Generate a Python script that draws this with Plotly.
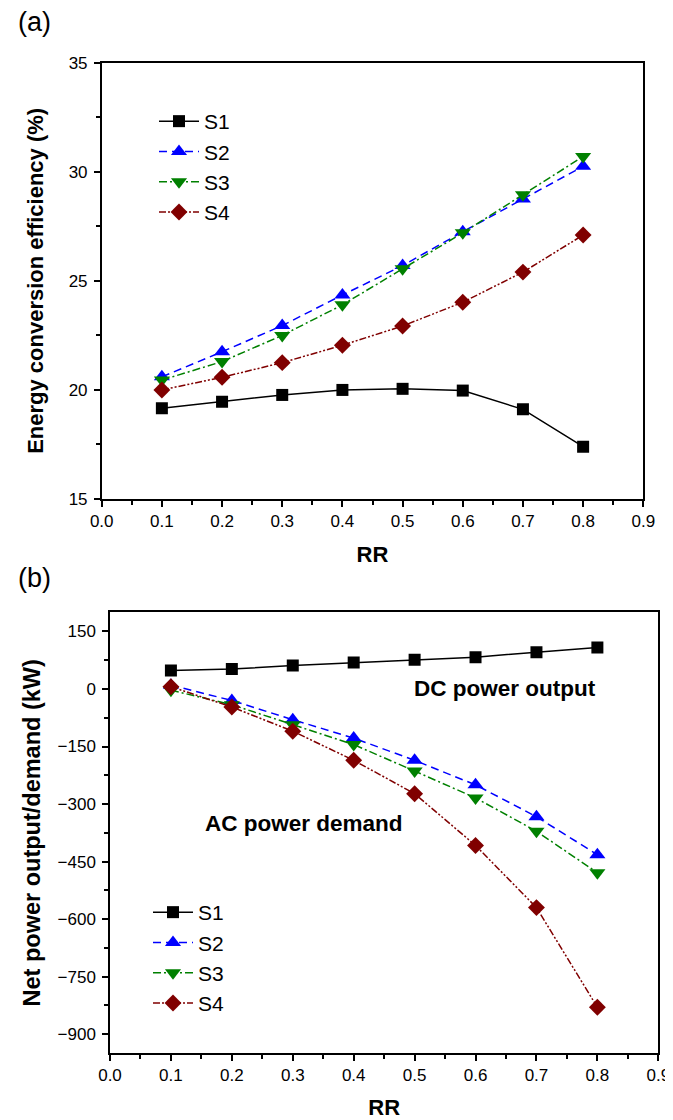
import plotly.graph_objects as go

rr = [0.1, 0.2, 0.3, 0.4, 0.5, 0.6, 0.7, 0.8]
series_names = ["S1", "S2", "S3", "S4"]

# (a) Energy conversion efficiency (%)
eff_s1 = [19.16, 19.46, 19.77, 20.0, 20.05, 19.97, 19.11, 17.40]
eff_s2 = [20.6, 21.75, 22.95, 24.35, 25.7, 27.25, 28.75, 30.25]
eff_s3 = [20.45, 21.3, 22.5, 23.9, 25.55, 27.2, 28.95, 30.7]
eff_s4 = [20.0, 20.58, 21.25, 22.05, 22.93, 24.02, 25.4, 27.1]

# (b) Net power output/demand (kW)
pow_s1 = [48, 52, 61, 69, 76, 83, 96, 108]
pow_s2 = [10, -30, -80, -128, -186, -250, -333, -432]
pow_s3 = [-3, -41, -93, -145, -214, -284, -371, -479]
pow_s4 = [6, -47, -110, -186, -273, -408, -570, -830]

x_ticks = [0.0, 0.1, 0.2, 0.3, 0.4, 0.5, 0.6, 0.7, 0.8, 0.9]
y_ticks_a = [15, 20, 25, 30, 35]
y_ticks_b = [150, 0, -150, -300, -450, -600, -750, -900]

colors = ["#000000", "#0000FF", "#008000", "#800000"]
symbols = ["square", "triangle-up", "triangle-down", "diamond"]
sizes = [12, 14, 14, 13]
dashes = ["solid", "8px,5px", "8px,3px,2px,3px", "7px,2px,2px,2px,2px,2px"]

FONT = "Liberation Sans, Arial, sans-serif"

# page body has an 8px margin; lay out in screen pixels
W, H, OFF = 665, 1112, 8


def PX(x):
    return (x - OFF) / W


def PY(y):
    return 1 - (y - OFF) / H


fig = go.Figure()

eff = [eff_s1, eff_s2, eff_s3, eff_s4]
pw = [pow_s1, pow_s2, pow_s3, pow_s4]
for i, name in enumerate(series_names):
    fig.add_trace(go.Scatter(
        x=rr, y=eff[i], name=name, mode="lines+markers",
        line=dict(color=colors[i], width=1.5, dash=dashes[i]),
        marker=dict(symbol=symbols[i], size=sizes[i], color=colors[i]),
        xaxis="x", yaxis="y", legend="legend", legendgroup="a" + name,
    ))
for i, name in enumerate(series_names):
    fig.add_trace(go.Scatter(
        x=rr, y=pw[i], name=name, mode="lines+markers",
        line=dict(color=colors[i], width=1.5, dash=dashes[i]),
        marker=dict(symbol=symbols[i], size=sizes[i], color=colors[i]),
        xaxis="x2", yaxis="y2", legend="legend2", legendgroup="b" + name,
    ))

tickfont = dict(family=FONT, size=17, color="#000")
titlefont = dict(family=FONT, size=22, color="#000", weight="bold")

common_x = dict(
    range=[0, 0.9], tickvals=x_ticks, tickformat=".1f",
    showline=True, linecolor="#000", linewidth=1.5, mirror=True,
    ticks="outside", ticklen=6, tickwidth=1.5, tickcolor="#000",
    minor=dict(ticks="outside", ticklen=4, tickwidth=1.5, tickcolor="#000", dtick=0.05),
    showgrid=False, zeroline=False, tickfont=tickfont, automargin=False,
    title=dict(text="RR", font=titlefont, standoff=16),
)
common_y = dict(
    showline=True, linecolor="#000", linewidth=1.5, mirror=True,
    ticks="outside", ticklen=6, tickwidth=1.5, tickcolor="#000",
    showgrid=False, zeroline=False, tickfont=tickfont, automargin=False,
    ticklabelstandoff=3,
)

fig.update_layout(
    width=W, height=H,
    margin=dict(l=0, r=0, t=0, b=0),
    paper_bgcolor="white", plot_bgcolor="white",
    font=dict(family=FONT, color="#000"),
    xaxis=dict(domain=[PX(101.7), PX(643.3)], anchor="y", **common_x),
    yaxis=dict(domain=[PY(499), PY(62.7)], anchor="x", range=[15, 35], tickvals=y_ticks_a,
               minor=dict(ticks="outside", ticklen=4, tickwidth=1.5, tickcolor="#000", dtick=2.5),
               title=dict(text="Energy conversion efficiency (%)", font=titlefont, standoff=19),
               **common_y),
    xaxis2=dict(domain=[PX(110), PX(658.3)], anchor="y2", **common_x),
    yaxis2=dict(domain=[PY(1053.3), PY(612.3)], anchor="x2", range=[-950, 200], tickvals=y_ticks_b,
                minor=dict(ticks="outside", ticklen=4, tickwidth=1.5, tickcolor="#000", dtick=75),
                title=dict(text="Net power output/demand (kW)",
                           font=dict(family=FONT, size=23.5, color="#000", weight="bold"),
                           standoff=10),
                **common_y),
    legend=dict(x=PX(154), y=PY(101), xanchor="left", yanchor="top",
                bgcolor="rgba(0,0,0,0)", font=dict(family=FONT, size=21, color="#000"),
                tracegroupgap=0, itemwidth=40),
    legend2=dict(x=PX(148), y=PY(892), xanchor="left", yanchor="top",
                 bgcolor="rgba(0,0,0,0)", font=dict(family=FONT, size=21, color="#000"),
                 tracegroupgap=0, itemwidth=40),
    annotations=[
        dict(text="(a)", x=PX(16), y=PY(22), xref="paper", yref="paper",
             xanchor="left", yanchor="middle", showarrow=False,
             font=dict(family=FONT, size=27, color="#000")),
        dict(text="(b)", x=PX(16), y=PY(578), xref="paper", yref="paper",
             xanchor="left", yanchor="middle", showarrow=False,
             font=dict(family=FONT, size=27, color="#000")),
        dict(text="DC power output", x=0.648, y=2, xref="x2", yref="y2",
             xanchor="center", yanchor="middle", showarrow=False,
             font=dict(family=FONT, size=22.5, color="#000", weight="bold")),
        dict(text="AC power demand", x=0.319, y=-350, xref="x2", yref="y2",
             xanchor="center", yanchor="middle", showarrow=False,
             font=dict(family=FONT, size=22.5, color="#000", weight="bold")),
    ],
)

fig.write_html("out.html")
